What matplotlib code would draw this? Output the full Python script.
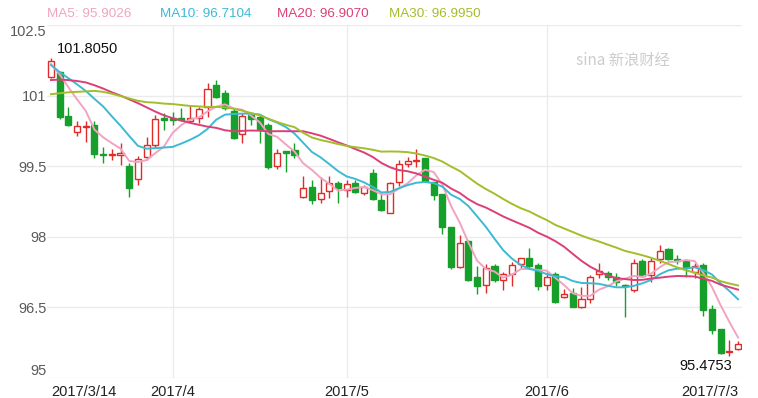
import matplotlib
matplotlib.use('Agg')
from matplotlib import pyplot as plt
import numpy as np

plt.rcParams['font.family'] = ['Liberation Sans', 'DejaVu Sans']

# daily candles, 2017/3/14 .. 2017/7/3
opens = [101.40, 101.51, 100.57, 100.23, 100.33, 100.38, 99.76, 99.73, 99.74, 99.50,
         99.22, 99.70, 99.95, 100.53, 100.52, 100.52, 100.45, 100.52, 100.75, 101.23,
         101.06, 100.68, 100.18, 100.59, 100.55, 100.38, 99.50, 99.82, 99.84, 98.84,
         99.05, 98.80, 98.98, 99.15, 99.00, 99.15, 98.92, 99.36, 98.78, 98.51,
         99.17, 99.55, 99.62, 99.67, 99.17, 98.91, 98.20, 97.35, 97.92, 97.14,
         96.98, 97.37, 97.08, 97.21, 97.42, 97.56, 97.40, 96.98, 97.20, 96.73,
         96.81, 96.50, 96.67, 97.21, 97.23, 97.15, 96.98, 96.88, 97.49, 97.19,
         97.52, 97.74, 97.52, 97.49, 97.26, 97.40, 96.46, 96.04, 95.55, 95.61]
highs = [101.805, 101.52, 100.75, 100.47, 100.46, 100.47, 99.91, 99.86, 99.99, 99.56,
         99.72, 100.11, 100.59, 100.62, 100.66, 100.73, 100.80, 100.76, 101.26, 101.33,
         101.12, 100.73, 100.62, 100.62, 100.59, 100.41, 99.86, 99.83, 100.00, 99.29,
         99.21, 99.26, 99.29, 99.19, 99.21, 99.21, 99.10, 99.43, 98.92, 99.17,
         99.63, 99.70, 99.86, 99.68, 99.17, 98.91, 98.20, 98.04, 97.93, 97.38,
         97.42, 97.42, 97.26, 97.47, 97.56, 97.76, 97.44, 97.26, 97.26, 96.90,
         96.91, 96.94, 97.19, 97.45, 97.28, 97.24, 96.99, 97.52, 97.52, 97.54,
         97.83, 97.76, 97.61, 97.52, 97.44, 97.44, 96.55, 96.04, 95.81, 95.79]
lows = [101.37, 100.50, 100.35, 100.15, 100.02, 99.67, 99.56, 99.63, 99.53, 98.85,
        99.10, 99.63, 99.91, 100.27, 100.38, 100.45, 100.44, 100.41, 100.55, 100.94,
        100.69, 100.07, 100.00, 100.38, 100.00, 99.43, 99.43, 99.38, 99.67, 98.83,
        98.70, 98.72, 98.82, 98.71, 98.85, 98.92, 98.89, 98.78, 98.55, 98.50,
        99.08, 99.49, 99.49, 99.17, 98.78, 98.06, 97.31, 97.33, 97.07, 96.79,
        96.80, 97.03, 96.87, 96.95, 97.33, 97.33, 96.87, 96.87, 96.59, 96.69,
        96.50, 96.49, 96.60, 97.12, 97.08, 96.96, 96.29, 96.83, 97.15, 97.03,
        97.45, 97.51, 97.42, 97.15, 97.12, 96.32, 95.94, 95.51, 95.4753, 95.60]
closes = [101.74, 100.55, 100.38, 100.35, 100.35, 99.76, 99.73, 99.76, 99.77, 99.03,
          99.65, 99.94, 100.50, 100.48, 100.48, 100.48, 100.52, 100.71, 101.13, 100.98,
          100.73, 100.09, 100.57, 100.50, 100.28, 99.48, 99.79, 99.77, 99.74, 99.03,
          98.78, 98.94, 99.14, 99.03, 99.12, 98.96, 99.05, 98.80, 98.58, 99.14,
          99.55, 99.61, 99.64, 99.19, 98.89, 98.21, 97.35, 97.87, 97.08, 96.95,
          97.33, 97.08, 97.21, 97.40, 97.54, 97.37, 96.95, 97.15, 96.62, 96.78,
          96.50, 96.67, 97.15, 97.28, 97.14, 97.03, 96.95, 97.45, 97.17, 97.49,
          97.70, 97.52, 97.49, 97.33, 97.38, 96.45, 96.02, 95.54, 95.57, 95.72]

# start of each MA line (window reaches before 3/14)
ma5_head = [101.67, 101.45, 101.18, 100.92]
ma10_head = [101.65, 101.50, 101.37, 101.24, 101.10, 100.93, 100.77, 100.56, 100.36]
ma20_head = [101.33, 101.34, 101.33, 101.31, 101.28, 101.22, 101.15, 101.07, 101.00, 100.92,
             100.84, 100.75, 100.66, 100.58, 100.52, 100.47, 100.42, 100.38, 100.34]
ma30_head = [101.03, 101.05, 101.07, 101.08, 101.09, 101.10, 101.08, 101.04, 100.99, 100.94,
             100.89, 100.86, 100.85, 100.83, 100.82, 100.80, 100.78, 100.77, 100.76, 100.76,
             100.75, 100.72, 100.68, 100.63, 100.58, 100.51, 100.44, 100.38, 100.33]

ma_labels = ['MA5: 95.9026', 'MA10: 96.7104', 'MA20: 96.9070', 'MA30: 96.9950']
ma_colors = ['#f2a3c0', '#3dbad3', '#dc3f78', '#a3bd2b']

tick_pos = [0, 14, 34, 57, 79]
tick_labels = ['2017/3/14', '2017/4', '2017/5', '2017/6', '2017/7/3']
y_ticks = [95, 96.5, 98, 99.5, 101, 102.5]

RED = '#e02b2b'
GREEN = '#179f2c'


def moving_avg(head, n):
    c = np.array(closes)
    tail = [c[i - n + 1:i + 1].mean() for i in range(n - 1, len(c))]
    return np.array(head + tail)


fig = plt.figure(figsize=(7.58, 3.98), dpi=100)
ax = fig.add_axes([46.6 / 758, 20 / 398, 695.8 / 758, 353 / 398])

x = np.arange(len(closes))
o = np.array(opens)
c = np.array(closes)
up = c >= o

ax.vlines(x, lows, highs, colors=np.where(up, RED, GREEN), linewidth=1, zorder=3)
body_lo = np.minimum(o, c)
body_h = np.maximum(np.abs(c - o), 0.015)
ax.bar(x[up], body_h[up], 0.7, bottom=body_lo[up], facecolor='white',
       edgecolor=RED, linewidth=1, zorder=4)
ax.bar(x[~up], body_h[~up], 0.7, bottom=body_lo[~up], facecolor=GREEN,
       edgecolor=GREEN, linewidth=1, zorder=4)

mas = [moving_avg(ma5_head, 5), moving_avg(ma10_head, 10),
       moving_avg(ma20_head, 20), moving_avg(ma30_head, 30)]
for m, col in zip(mas, ma_colors):
    ax.plot(x, m, color=col, linewidth=1.4, zorder=5)

ax.set_xlim(-0.5, len(closes) - 0.5)
ax.set_ylim(95, 102.5)
ax.set_yticks(y_ticks)
ax.set_yticklabels([('%g' % v) for v in y_ticks], color='#5a5a5a', fontsize=10.5)
ylab = ax.get_yticklabels()
ylab[0].set_va('bottom')
ylab[-1].set_va('top')
ax.set_xticks(tick_pos)
ax.set_xticklabels(tick_labels, fontsize=10.5, color='#222222')
xlab = ax.get_xticklabels()
xlab[0].set_ha('left')
xlab[-1].set_ha('right')
ax.tick_params(length=0)
ax.tick_params(axis='y', pad=0)
ax.tick_params(axis='x', pad=5)
ax.grid(axis='y', color='#ebebeb', linewidth=1)
for t in tick_pos[1:4]:
    ax.axvline(t, color='#ebebeb', linewidth=1, zorder=0)
ax.set_axisbelow(True)
for s in ax.spines.values():
    s.set_visible(False)

ax.annotate('101.8050', (0, 101.805), xytext=(6, 9), textcoords='offset pixels',
            ha='left', va='center', fontsize=10.5, color='#111111')
ax.annotate('95.4753', (78, 95.4753), xytext=(3, -10), textcoords='offset pixels',
            ha='right', va='center', fontsize=10.5, color='#111111')

xs = [47, 160, 277, 389]
for lx, lab, col in zip(xs, ma_labels, ma_colors):
    fig.text(lx / 758, 1 - 14 / 398, lab, color=col, fontsize=9.7, va='center', ha='left')

fig.text(623 / 758, 1 - 60 / 398, 'sina 新浪财经', color='#cccccc', fontsize=11,
         style='italic', ha='center', va='center',
         family=['Noto Sans CJK SC', 'DejaVu Sans'])

fig.savefig('out.png', dpi=100)
